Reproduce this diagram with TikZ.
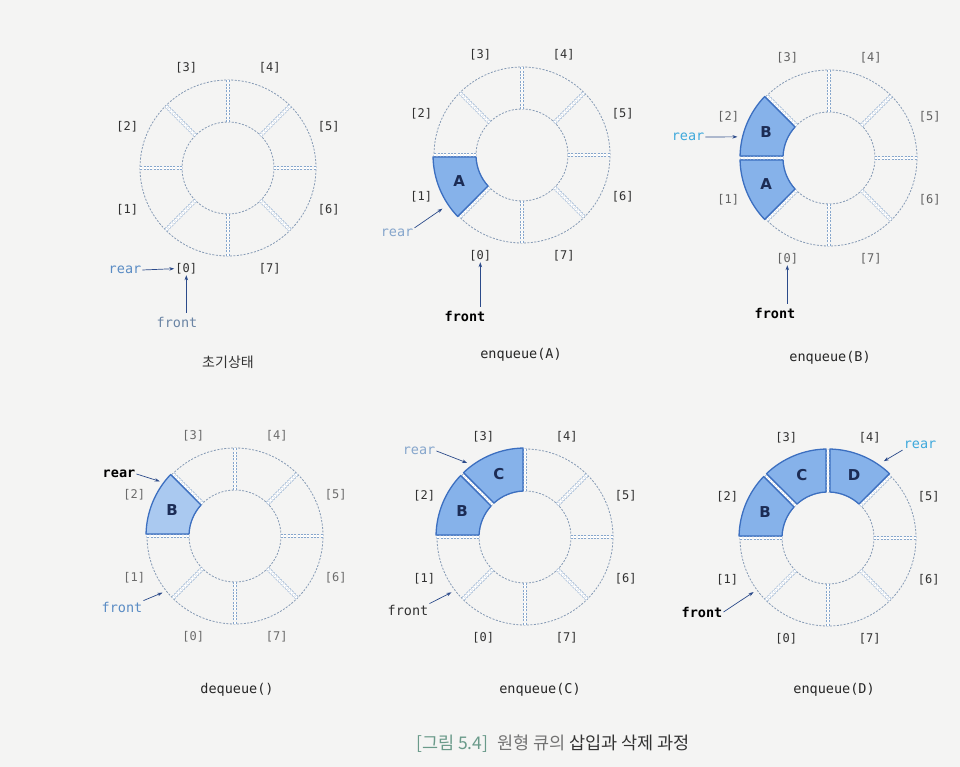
\documentclass[tikz,border=0pt]{standalone}
\usepackage{fontspec}
\setmainfont{DejaVu Sans}
\newfontfamily\monof{DejaVu Sans Mono}
\newfontfamily\krf{Noto Sans CJK KR}
\usetikzlibrary{arrows.meta,calc}
\definecolor{bgc}{HTML}{F4F4F3}
\definecolor{ringc}{HTML}{8499B4}
\definecolor{divc}{HTML}{86A6CC}
\definecolor{cellfill}{HTML}{86B2EA}
\definecolor{cellborder}{HTML}{3C6FC0}
\definecolor{lettc}{HTML}{1C2C55}
\definecolor{ptrc}{HTML}{2B4A8A}
\definecolor{idxc}{HTML}{303030}
\definecolor{capc}{HTML}{6A9A8A}
\definecolor{softblue}{HTML}{5A8CC4}
\definecolor{grayblue}{HTML}{6A84A4}
\definecolor{skyblue}{HTML}{3FA9DC}
\tikzset{
  ringline/.style={draw=ringc, line width=0.8pt, dash pattern=on 2pt off 1.5pt},
  divider/.style={draw=divc, line width=0.65pt, double=white, double distance=2.6pt, dash pattern=on 2pt off 1.3pt},
  cellbox/.style={fill=cellfill, draw=cellborder, line width=1.3pt, line join=round},
  letter/.style={font=\bfseries\fontsize{15}{15}\selectfont, text=lettc},
  idx/.style={font=\monof\fontsize{12}{12}\selectfont, text=idxc, inner sep=1pt},
  ptrtxt/.style={font=\monof\fontsize{13.5}{14}\selectfont, inner sep=1pt},
  ptrbold/.style={font=\monof\bfseries\fontsize{13.5}{14}\selectfont, inner sep=1pt, text=black},
  ptr/.style={draw=ptrc, line width=0.7pt, -{Stealth[length=5pt,width=3.5pt]}},
  opcap/.style={font=\monof\fontsize{13.5}{14}\selectfont, text=black!85},
}
\newcommand\drawring[1]{%
  \draw[ringline] (0,0) circle[radius=88];
  \draw[ringline] (0,0) circle[radius=46];
  \foreach \a in {0,45,...,315} {\draw[divider] (\a:46) -- (\a:88);}
}
\newcommand\ringlabels[1]{%
  \foreach \k in {0,...,7} {\node[idx] (#1l\k) at ({247.5-45*\k}:109) {[\k]};}
}
\newcommand\qcell[3]{%
  \pgfmathsetmacro\sa{225-45*#1}%
  \pgfmathsetmacro\ea{270-45*#1}%
  \draw[cellbox] ({\sa+1.3}:89) arc[start angle={\sa+1.3}, end angle={\ea-1.3}, radius=89]
     -- ({\ea-2.6}:46) arc[start angle={\ea-2.6}, end angle={\sa+2.6}, radius=46] -- cycle;
  \node[letter] (#3) at ({247.5-45*#1}:68) {#2};
}
\begin{document}
\begin{tikzpicture}[x=1pt,y=1pt]
\fill[bgc] (0,0) rectangle (960,767);
\useasboundingbox (0,0) rectangle (960,767);

% ---------- 1: initial state
\begin{scope}[shift={(228,599)}]
  \drawring{a}
  \ringlabels{a}
\end{scope}
\node[ptrtxt, text=softblue] (rear1) at (125,497) {rear};
\node[ptrtxt, text=grayblue] (front1) at (177,445) {front};
\draw[ptr] (rear1.east) -- (al0.west);
\draw[ptr] ([yshift=3pt]front1.north -| al0.south) -- (al0.south);
\node[font=\krf\fontsize{14}{14}\selectfont, text=black!80] (cap1) at (228,405) {초기상태};

% ---------- 2: enqueue(A)
\begin{scope}[shift={(522,612)}]
  \drawring{b}
  \qcell{1}{A}{bA}
  \ringlabels{b}
  \coordinate (b2rear) at (214:96);
\end{scope}
\node[ptrtxt, text=divc] (rear2) at (397,534) {rear};
\node[ptrbold] (front2) at (465,451) {front};
\draw[ptr] (rear2.north east) -- (b2rear);
\draw[ptr] ([yshift=3pt]front2.north -| bl0.south) -- (bl0.south);
\node[opcap] (cap2) at (521,412) {enqueue(A)};

% ---------- 3: enqueue(B)
\begin{scope}[shift={(829,609)}]
  \drawring{c}
  \qcell{1}{A}{cA}
  \qcell{2}{B}{cB}
  \colorlet{idxc}{black!62}
  \ringlabels{c}
  \coordinate (c3rear) at (167:94);
\end{scope}
\node[ptrtxt, text=skyblue] (rear3) at (688,630) {rear};
\node[ptrbold] (front3) at (775,454) {front};
\draw[ptr] (rear3.east) -- (c3rear);
\draw[ptr] ([yshift=3pt]front3.north -| cl0.south) -- (cl0.south);
\node[opcap] (cap3) at (830,409) {enqueue(B)};

% ---------- 4: dequeue()
\begin{scope}[shift={(235,231)}]
  \drawring{d}
  \colorlet{cellfill}{cellfill!70!white}
  \qcell{2}{B}{dB}
  \colorlet{idxc}{black!58}
  \ringlabels{d}
  \coordinate (d4rear) at (144:93);
  \coordinate (d4front) at (218:92);
\end{scope}
\node[ptrbold] (rear4) at (119,293) {rear};
\node[ptrtxt, text=softblue] (front4) at (122,160) {front};
\draw[ptr] (rear4.east) -- (d4rear);
\draw[ptr] (front4.north east) -- (d4front);
\node[opcap] (cap4) at (237,77) {dequeue()};

% ---------- 5: enqueue(C)
\begin{scope}[shift={(525,230)}]
  \drawring{e}
  \qcell{2}{B}{eB}
  \qcell{3}{C}{eC}
  \ringlabels{e}
  \coordinate (e5rear) at (128:94);
  \coordinate (e5front) at (217:92);
\end{scope}
\node[ptrtxt, text=divc] (rear5) at (419,316) {rear};
\node[ptrtxt, text=black!80] (front5) at (408,157) {front};
\draw[ptr] (rear5.east) -- (e5rear);
\draw[ptr] (front5.north east) -- (e5front);
\node[opcap] (cap5) at (540,77) {enqueue(C)};

% ---------- 6: enqueue(D)
\begin{scope}[shift={(828,229)}]
  \drawring{f}
  \qcell{2}{B}{fB}
  \qcell{3}{C}{fC}
  \qcell{4}{D}{fD}
  \ringlabels{f}
  \coordinate (f6rear) at (54:95);
  \coordinate (f6front) at (216:92);
\end{scope}
\node[ptrtxt, text=skyblue] (rear6) at (920,322) {rear};
\node[ptrbold] (front6) at (702,155) {front};
\draw[ptr] (rear6.south west) -- (f6rear);
\draw[ptr] (front6.east) -- (f6front);
\node[opcap] (cap6) at (834,77) {enqueue(D)};

% ---------- figure caption
\node[font=\krf\fontsize{17.5}{18}\selectfont] (figcap) at (553,23)
  {\textcolor{capc}{[그림 5.4]}\hspace{0.5em}\textcolor{black!55}{원형 큐의} \textcolor{black!80}{삽입과 삭제 과정}};
\end{tikzpicture}
\end{document}
